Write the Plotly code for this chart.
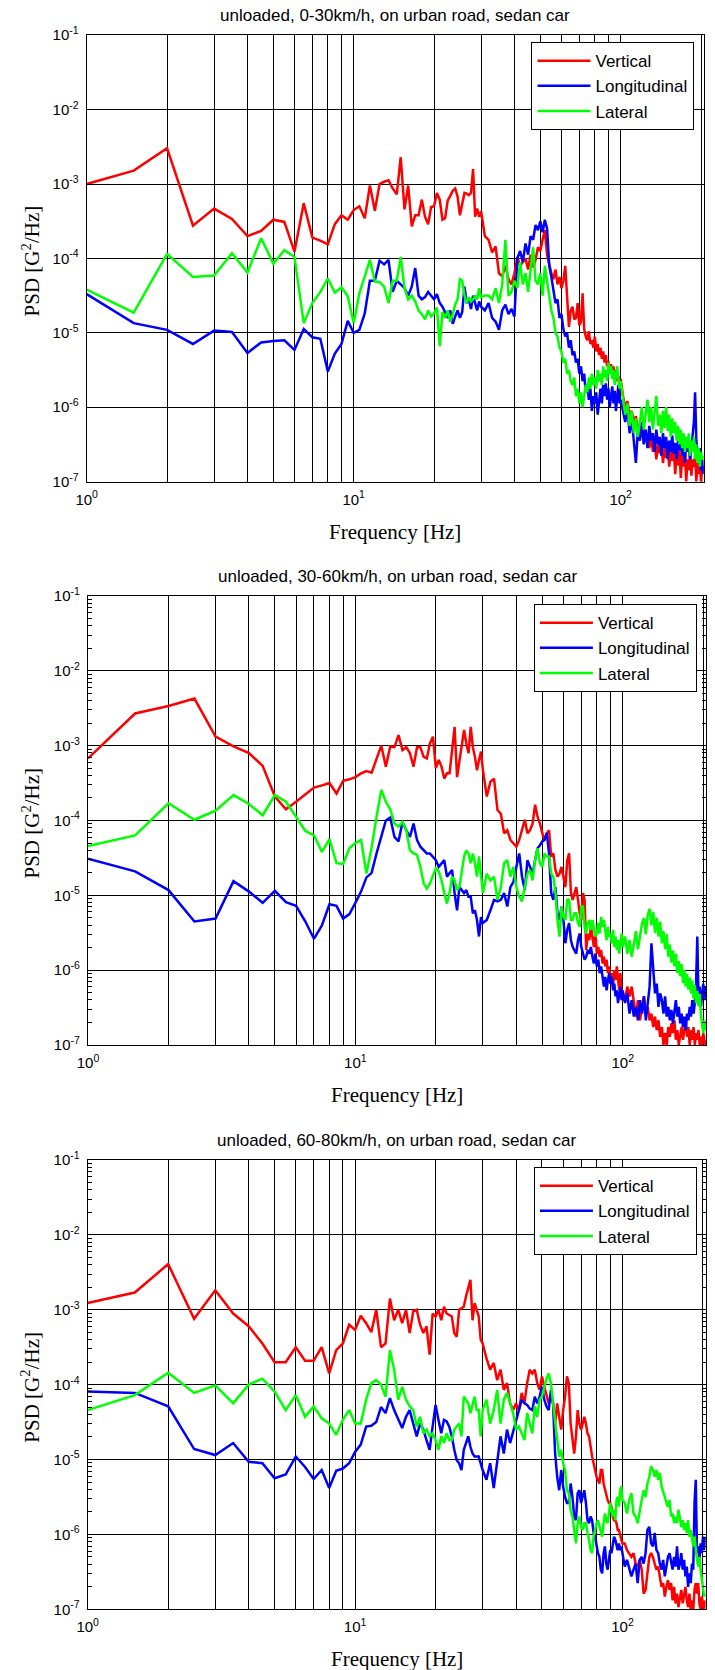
import math
import plotly.graph_objects as go

# ---------------------------------------------------------------- frequency grid (Hz)
FREQ_LOW = [1.0 + 0.5 * i for i in range(59)]     # 1.0 ... 30.0
FREQ_MID = [31.0 + i for i in range(70)]           # 31 ... 100
FREQ_HIGH = [102.0 + 2 * i for i in range(52)]     # 102 ... 204
FREQ = FREQ_LOW + FREQ_MID + FREQ_HIGH

# ---------------------------------------------------------------- PSD values, log10(G^2/Hz)
# Panel 1: 0-30 km/h
P1_VERTICAL = [
    -3.00, -2.82, -2.52, -3.56, -3.33, -3.47, -3.70, -3.63, -3.48, -3.51,
    -3.91, -3.26, -3.72, -3.76, -3.81, -3.54, -3.42, -3.48, -3.35, -3.30,
    -3.46, -3.02, -3.36, -3.00, -2.97, -2.95, -3.06, -3.14, -2.64, -3.34,
    -3.02, -3.57, -3.42, -3.42, -3.21, -3.44, -3.54, -3.31, -3.30, -3.12,
    -3.21, -3.48, -3.46, -3.22, -3.16, -3.09, -3.06, -3.17, -3.42, -3.26,
    -3.12, -3.13, -3.15, -3.12, -2.80, -3.44, -3.33, -3.44, -3.37,
    -3.70, -3.75, -3.92, -3.84, -4.20, -4.24, -4.10, -4.28, -4.35, -4.20,
    -3.98, -4.10, -4.05, -4.00, -4.15, -3.95, -4.12, -4.02, -3.85, -3.90,
    -3.75, -3.62, -3.95, -4.10, -4.20, -4.28, -4.15, -4.35, -4.25, -4.40,
    -4.30, -4.10, -4.50, -4.92, -4.70, -4.65, -4.82, -4.80, -4.60, -4.90,
    -4.85, -4.47, -4.95, -5.05, -5.10, -4.98, -5.15, -5.10, -5.20, -5.05,
    -5.25, -5.15, -5.30, -5.20, -5.35, -5.25, -5.40, -5.30, -5.45, -5.38,
    -5.50, -5.42, -5.55, -5.45, -5.60, -5.50, -5.65, -5.58, -5.70, -5.62,
    -5.85, -6.00, -5.92, -6.10, -6.05, -6.20, -6.12, -6.30, -6.22, -6.40,
    -6.28, -6.45, -6.35, -6.55, -6.40, -6.60, -6.45, -6.70, -6.50, -6.62,
    -6.48, -6.75, -6.55, -6.68, -6.52, -6.80, -6.60, -6.72, -6.55, -6.90,
    -6.62, -6.78, -6.58, -6.95, -6.65, -6.80, -6.60, -7.00, -6.70, -6.85,
    -6.62, -6.92, -6.70, -6.80, -6.65, -7.00, -6.75, -6.90, -6.72, -7.02,
    -6.80, -6.85,
]
P1_LONGITUDINAL = [
    -4.48, -4.87, -4.96, -5.15, -4.97, -4.99, -5.27, -5.13, -5.11, -5.10,
    -5.23, -4.95, -5.06, -5.08, -5.52, -5.28, -5.15, -4.84, -5.00, -4.96,
    -4.74, -4.30, -4.30, -4.03, -4.08, -4.02, -4.45, -4.30, -4.35, -4.40,
    -4.50, -4.38, -4.13, -4.50, -4.55, -4.52, -4.45, -4.50, -4.55, -4.48,
    -4.60, -4.65, -4.72, -4.80, -4.70, -4.88, -4.78, -4.70, -4.80, -4.72,
    -4.38, -4.60, -4.55, -4.68, -4.50, -4.62, -4.70, -4.58, -4.65,
    -4.70, -4.60, -4.80, -4.85, -4.96, -4.70, -4.62, -4.75, -4.68, -4.78,
    -4.00, -3.90, -4.05, -3.80, -3.95, -3.70, -3.75, -3.55, -3.62, -3.50,
    -3.65, -3.48, -3.60, -4.10, -4.25, -4.45, -4.60, -4.55, -4.80, -4.75,
    -4.95, -5.05, -5.00, -5.20, -5.10, -5.30, -5.25, -5.40, -5.35, -5.55,
    -5.45, -5.65, -5.55, -5.80, -5.70, -5.90, -5.75, -6.05, -5.85, -5.95,
    -5.80, -6.10, -5.90, -5.75, -5.95, -5.70, -5.85, -5.68, -5.90, -5.75,
    -6.00, -5.80, -5.72, -5.95, -5.78, -6.05, -5.85, -5.70, -5.95, -5.90,
    -6.05, -6.20, -6.00, -6.35, -6.15, -6.45, -6.75, -6.30, -6.45, -6.20,
    -6.50, -6.30, -6.55, -6.25, -6.45, -6.35, -6.60, -6.30, -6.50, -6.40,
    -6.65, -6.35, -6.55, -6.40, -6.70, -6.45, -6.60, -6.38, -6.62, -6.48,
    -6.70, -6.45, -6.58, -6.40, -6.65, -6.50, -6.75, -6.45, -6.60, -6.50,
    -6.70, -6.55, -6.40, -6.20, -5.80, -6.45, -6.60, -6.75, -6.55, -6.85,
    -6.70, -6.90,
]
P1_LATERAL = [
    -4.42, -4.73, -3.94, -4.25, -4.23, -3.93, -4.19, -3.73, -4.07, -3.89,
    -3.98, -4.87, -4.60, -4.45, -4.27, -4.46, -4.39, -4.51, -4.87, -4.47,
    -4.24, -4.02, -4.31, -4.32, -4.38, -4.60, -4.30, -4.30, -3.98, -4.40,
    -4.55, -4.50, -4.58, -4.70, -4.75, -4.82, -4.70, -4.78, -4.74, -4.66,
    -5.18, -4.72, -4.80, -4.70, -4.85, -4.75, -4.62, -4.55, -4.28, -4.30,
    -4.50, -4.60, -4.52, -4.58, -4.55, -4.50, -4.55, -4.40, -4.52,
    -4.50, -4.50, -4.55, -4.40, -4.60, -4.35, -3.75, -4.50, -4.45, -4.30,
    -4.40, -4.05, -4.35, -4.20, -4.45, -4.15, -3.85, -4.30, -4.35, -4.20,
    -4.50, -4.10, -4.30, -4.55, -4.70, -4.80, -5.00, -5.05, -5.20, -5.25,
    -5.40, -5.35, -5.55, -5.50, -5.65, -5.70, -5.60, -5.85, -5.75, -5.95,
    -5.80, -6.00, -5.85, -5.70, -5.80, -5.60, -5.75, -5.55, -5.70, -5.60,
    -5.75, -5.50, -5.65, -5.55, -5.70, -5.45, -5.60, -5.50, -5.65, -5.40,
    -5.55, -5.45, -5.62, -5.50, -5.70, -5.55, -5.45, -5.60, -5.75, -5.65,
    -5.90, -6.10, -5.95, -6.25, -6.05, -6.35, -6.15, -6.40, -6.20, -6.00,
    -6.30, -6.10, -5.90, -6.20, -6.00, -6.30, -6.05, -5.85, -6.25, -6.10,
    -6.35, -6.05, -6.28, -6.00, -6.32, -6.10, -6.40, -6.15, -6.35, -6.20,
    -6.45, -6.25, -6.50, -6.30, -6.55, -6.35, -6.60, -6.40, -6.55, -6.35,
    -6.65, -6.45, -6.60, -6.40, -6.70, -6.50, -6.75, -6.55, -6.80, -6.60,
    -6.70, -6.65,
]

# Panel 2: 30-60 km/h
P2_VERTICAL = [
    -3.17, -2.57, -2.47, -2.37, -2.88, -3.01, -3.10, -3.27, -3.68, -3.85,
    -3.75, -3.65, -3.56, -3.53, -3.50, -3.64, -3.47, -3.45, -3.42, -3.37,
    -3.34, -3.36, -3.19, -3.00, -3.28, -3.01, -3.02, -2.86, -3.06, -3.02,
    -3.10, -3.28, -3.02, -3.02, -3.15, -3.17, -2.97, -2.88, -3.30, -3.19,
    -3.28, -3.44, -3.37, -3.37, -3.06, -2.75, -3.42, -3.19, -3.02, -2.79,
    -2.97, -3.10, -2.75, -3.02, -3.15, -3.33, -3.19, -3.08, -3.33,
    -3.68, -3.48, -3.44, -3.86, -3.91, -4.17, -4.13, -4.26, -4.31, -4.35,
    -4.26, -4.13, -3.99, -4.17, -4.13, -4.04, -3.79, -3.95, -4.04, -4.17,
    -4.26, -4.17, -4.13, -4.48, -4.44, -4.66, -4.75, -4.71, -4.62, -4.75,
    -4.89, -4.53, -4.44, -4.97, -5.06, -4.97, -4.89, -5.06, -5.24, -5.33,
    -4.97, -5.06, -5.73, -5.51, -5.60, -5.42, -5.55, -5.69, -5.51, -5.78,
    -5.69, -5.82, -5.73, -5.91, -5.82, -5.95, -5.86, -6.04, -5.95, -6.18,
    -6.04, -6.22, -6.00, -6.13, -5.95, -6.09, -6.27, -6.04, -6.31, -6.40,
    -6.40, -6.22, -6.35, -6.22, -6.44, -6.62, -6.40, -6.67, -6.49, -6.35,
    -6.58, -6.49, -6.67, -6.58, -6.76, -6.62, -6.80, -6.67, -6.89, -6.76,
    -7.00, -6.84, -7.00, -6.76, -6.89, -6.71, -6.84, -6.67, -6.93, -6.80,
    -7.00, -6.84, -6.76, -6.93, -6.80, -6.67, -6.89, -6.76, -7.00, -6.80,
    -6.93, -6.76, -7.00, -6.84, -6.93, -6.80, -7.00, -6.89, -7.00, -6.84,
    -6.93, -7.00,
]
P2_LONGITUDINAL = [
    -4.51, -4.68, -4.93, -5.35, -5.31, -4.81, -4.95, -5.10, -4.94, -5.09,
    -5.14, -5.35, -5.58, -5.40, -5.12, -5.14, -5.31, -5.25, -5.10, -4.95,
    -4.76, -4.70, -4.44, -4.20, -4.00, -3.96, -4.22, -4.28, -4.02, -4.13,
    -4.22, -4.04, -4.26, -4.35, -4.40, -4.44, -4.44, -4.48, -4.53, -4.62,
    -4.57, -4.53, -4.75, -4.71, -4.66, -4.97, -5.20, -4.89, -4.93, -4.97,
    -4.93, -5.02, -5.02, -5.24, -5.20, -5.33, -5.55, -5.29, -5.37,
    -5.33, -5.20, -5.06, -5.08, -5.06, -4.97, -5.15, -4.89, -4.82, -4.62,
    -4.44, -4.75, -4.93, -4.53, -4.62, -4.71, -4.53, -4.37, -4.33, -4.28,
    -4.26, -4.17, -4.44, -4.97, -5.06, -4.89, -5.24, -5.33, -5.15, -5.33,
    -5.64, -5.46, -5.37, -5.60, -5.69, -5.73, -5.78, -5.60, -5.51, -5.69,
    -5.78, -5.86, -5.82, -5.73, -5.78, -5.69, -5.82, -5.91, -5.78, -5.95,
    -5.86, -6.04, -5.95, -6.13, -6.22, -6.09, -6.27, -6.13, -6.04, -6.18,
    -6.09, -6.27, -6.18, -6.35, -6.27, -6.44, -6.31, -6.22, -6.40, -6.27,
    -6.44, -6.31, -6.58, -6.40, -6.62, -6.49, -6.67, -6.40, -6.58, -6.35,
    -6.67, -6.44, -6.22, -5.64, -5.95, -6.31, -6.18, -6.49, -6.31, -6.40,
    -6.58, -6.35, -6.62, -6.49, -6.67, -6.53, -6.71, -6.58, -6.40, -6.62,
    -6.49, -6.71, -6.58, -6.76, -6.62, -6.80, -6.58, -6.67, -6.49, -6.62,
    -6.40, -6.58, -6.44, -6.18, -5.55, -6.40, -6.22, -6.49, -6.31, -6.18,
    -6.40, -6.22,
]
P2_LATERAL = [
    -4.34, -4.20, -3.77, -3.99, -3.87, -3.66, -3.78, -3.93, -3.66, -3.75,
    -3.95, -4.14, -4.20, -4.42, -4.25, -4.57, -4.58, -4.37, -4.30, -4.26,
    -4.71, -4.36, -3.95, -3.59, -3.75, -3.85, -4.04, -4.08, -4.02, -4.13,
    -4.40, -4.44, -4.46, -4.62, -4.84, -4.91, -4.84, -4.75, -4.64, -4.68,
    -4.80, -4.97, -5.11, -4.97, -4.75, -4.80, -4.93, -4.89, -4.71, -4.48,
    -4.40, -4.44, -4.57, -4.44, -4.57, -4.75, -4.48, -4.71, -4.97,
    -4.71, -4.80, -4.75, -5.06, -4.89, -4.57, -4.53, -4.75, -4.62, -4.89,
    -5.02, -5.08, -4.89, -4.71, -4.66, -4.80, -4.53, -4.37, -4.57, -4.62,
    -4.44, -4.48, -4.48, -4.71, -4.75, -4.97, -5.33, -5.55, -5.15, -5.29,
    -5.33, -5.06, -5.06, -5.33, -5.33, -5.24, -5.24, -5.37, -5.42, -5.15,
    -5.15, -5.42, -5.51, -5.37, -5.33, -5.46, -5.33, -5.42, -5.55, -5.51,
    -5.37, -5.51, -5.29, -5.42, -5.33, -5.46, -5.60, -5.42, -5.55, -5.51,
    -5.64, -5.46, -5.69, -5.55, -5.73, -5.60, -5.78, -5.64, -5.51, -5.69,
    -5.55, -5.78, -5.60, -5.82, -5.64, -5.48, -5.72, -5.52, -5.38, -5.30,
    -5.52, -5.26, -5.18, -5.40, -5.22, -5.50, -5.30, -5.55, -5.35, -5.64,
    -5.48, -5.72, -5.52, -5.82, -5.66, -5.90, -5.74, -5.95, -5.78, -6.04,
    -5.88, -6.08, -5.92, -6.17, -6.00, -6.22, -6.05, -6.26, -6.10, -6.31,
    -6.14, -6.38, -6.20, -6.44, -6.28, -6.48, -6.32, -6.60, -6.71, -6.84,
    -6.67, -6.80,
]

# Panel 3: 60-80 km/h
P3_VERTICAL = [
    -2.91, -2.77, -2.39, -3.12, -2.74, -3.05, -3.22, -3.45, -3.70, -3.70,
    -3.50, -3.68, -3.68, -3.50, -3.85, -3.54, -3.45, -3.20, -3.27, -3.08,
    -3.18, -3.30, -3.00, -3.50, -3.45, -2.85, -3.14, -3.00, -3.18, -3.00,
    -3.31, -3.02, -3.00, -3.20, -3.31, -3.22, -3.60, -3.05, -3.09, -3.00,
    -3.14, -2.96, -3.05, -3.07, -3.09, -3.31, -3.36, -3.00, -2.98, -2.96,
    -2.82, -2.69, -2.60, -3.14, -2.91, -3.00, -3.09, -3.40, -3.45,
    -3.65, -3.80, -3.71, -3.94, -3.80, -4.07, -3.98, -4.25, -4.34, -4.25,
    -4.34, -4.11, -4.25, -3.98, -3.80, -3.85, -3.80, -3.98, -4.07, -3.89,
    -4.03, -4.16, -4.25, -4.16, -4.25, -4.52, -4.25, -4.43, -4.60, -4.34,
    -4.16, -3.89, -3.98, -4.52, -4.69, -4.92, -4.69, -4.34, -4.52, -4.60,
    -4.52, -4.43, -4.52, -4.65, -4.69, -4.87, -4.96, -5.05, -5.14, -5.23,
    -5.27, -5.32, -5.14, -5.14, -5.32, -5.41, -5.50, -5.54, -5.58, -5.58,
    -5.63, -5.76, -5.81, -5.81, -5.85, -5.94, -5.94, -6.03, -6.07, -6.12,
    -6.12, -6.21, -6.25, -6.30, -6.25, -6.39, -6.43, -6.34, -6.47, -6.79,
    -6.74, -6.47, -6.30, -6.25, -6.30, -6.39, -6.47, -6.43, -6.56, -6.70,
    -6.65, -6.83, -6.70, -6.61, -6.74, -6.65, -6.88, -6.70, -6.92, -6.79,
    -6.97, -6.83, -6.74, -6.92, -6.79, -6.70, -6.88, -6.97, -6.79, -7.01,
    -6.88, -7.01, -6.74, -6.65, -6.79, -6.65, -6.92, -7.01, -6.83, -6.92,
    -7.01, -6.88,
]
P3_LONGITUDINAL = [
    -4.09, -4.11, -4.29, -4.86, -4.94, -4.78, -5.03, -5.05, -5.25, -5.20,
    -4.96, -5.10, -5.26, -5.14, -5.38, -5.15, -5.12, -5.05, -4.90, -4.80,
    -4.56, -4.55, -4.50, -4.30, -4.38, -4.18, -4.34, -4.47, -4.58, -4.43,
    -4.34, -4.52, -4.69, -4.52, -4.60, -4.74, -4.87, -4.56, -4.27, -4.47,
    -4.65, -4.47, -4.49, -4.56, -4.69, -4.87, -5.01, -5.05, -5.14, -4.87,
    -4.78, -4.69, -4.83, -4.92, -4.96, -4.96, -4.96, -5.05, -5.14,
    -5.27, -5.05, -5.38, -5.05, -4.69, -4.92, -4.60, -4.78, -4.63, -4.52,
    -4.34, -4.20, -4.25, -4.27, -4.32, -4.34, -4.16, -4.25, -4.16, -4.03,
    -4.20, -4.29, -4.34, -4.07, -4.25, -4.92, -5.23, -5.41, -5.14, -5.36,
    -5.50, -5.58, -5.58, -5.32, -5.50, -5.76, -5.81, -5.45, -5.41, -5.58,
    -5.50, -5.41, -5.58, -5.81, -5.85, -5.76, -5.81, -5.98, -6.03, -6.16,
    -6.25, -6.30, -6.47, -6.52, -6.25, -6.16, -6.39, -6.47, -6.30, -6.21,
    -6.25, -6.12, -6.03, -6.07, -6.16, -6.21, -6.12, -6.21, -6.16, -6.25,
    -6.43, -6.34, -6.47, -6.56, -6.47, -6.39, -6.65, -6.34, -6.30, -6.39,
    -6.25, -5.94, -5.90, -6.12, -6.16, -5.98, -6.21, -6.25, -6.39, -6.47,
    -6.34, -6.56, -6.43, -6.30, -6.25, -6.39, -6.47, -6.30, -6.43, -6.16,
    -6.47, -6.39, -6.25, -6.47, -6.34, -6.56, -6.43, -6.70, -6.52, -6.65,
    -6.39, -6.47, -5.58, -5.27, -6.25, -6.16, -6.34, -6.12, -6.25, -6.03,
    -6.21, -6.03,
]
P3_LATERAL = [
    -4.34, -4.14, -3.84, -4.11, -4.01, -4.25, -4.00, -3.92, -4.09, -4.34,
    -4.14, -4.43, -4.29, -4.45, -4.52, -4.67, -4.47, -4.34, -4.52, -4.52,
    -4.20, -3.98, -3.94, -4.00, -4.16, -3.54, -3.80, -4.20, -4.03, -4.20,
    -4.29, -4.34, -4.56, -4.43, -4.65, -4.60, -4.69, -4.65, -4.74, -4.87,
    -4.69, -4.78, -4.65, -4.74, -4.74, -4.60, -4.56, -4.52, -4.69, -4.16,
    -4.20, -4.25, -4.38, -4.25, -4.16, -4.34, -4.34, -4.69, -4.34,
    -4.20, -4.52, -4.34, -4.07, -4.52, -4.20, -4.11, -4.25, -4.38, -4.60,
    -4.56, -4.65, -4.74, -4.38, -4.52, -4.65, -4.29, -4.43, -4.20, -4.16,
    -4.03, -3.92, -3.85, -3.98, -4.25, -4.52, -4.78, -4.96, -4.87, -5.05,
    -5.14, -5.41, -5.45, -5.67, -5.76, -5.94, -6.12, -5.85, -5.76, -5.90,
    -5.94, -5.85, -5.85, -5.98, -6.07, -6.21, -6.25, -6.03, -5.94, -5.85,
    -5.81, -5.90, -5.98, -6.03, -5.85, -5.72, -5.81, -5.85, -5.72, -5.58,
    -5.67, -5.76, -5.67, -5.81, -5.54, -5.50, -5.63, -5.41, -5.36, -5.54,
    -5.58, -5.72, -5.54, -5.45, -5.72, -5.76, -5.85, -5.67, -5.54, -5.41,
    -5.50, -5.32, -5.23, -5.09, -5.14, -5.23, -5.14, -5.27, -5.18, -5.36,
    -5.45, -5.50, -5.58, -5.63, -5.54, -5.76, -5.72, -5.85, -5.76, -5.85,
    -5.67, -5.81, -5.90, -5.81, -5.94, -5.85, -5.98, -5.81, -6.03, -5.94,
    -6.07, -6.16, -6.03, -6.25, -6.34, -6.43, -6.30, -6.47, -6.61, -6.74,
    -6.83, -6.79,
]

SERIES_NAMES = ["Vertical", "Longitudinal", "Lateral"]
SERIES_COLORS = ["#FF0000", "#0000FF", "#00FF00"]
PANEL_TITLES = [
    "unloaded, 0-30km/h, on urban road, sedan car",
    "unloaded, 30-60km/h, on urban road, sedan car",
    "unloaded, 60-80km/h, on urban road, sedan car",
]
PANEL_DATA = [
    [P1_VERTICAL, P1_LONGITUDINAL, P1_LATERAL],
    [P2_VERTICAL, P2_LONGITUDINAL, P2_LATERAL],
    [P3_VERTICAL, P3_LONGITUDINAL, P3_LATERAL],
]

X_TICKS = [1, 10, 100]
X_TICKTEXT = ["10<sup>0</sup>", "10<sup>1</sup>", "10<sup>2</sup>"]
X_MINOR = [2, 3, 4, 5, 6, 7, 8, 9, 20, 30, 40, 50, 60, 70, 80, 90, 200]
Y_TICKS = [1e-7, 1e-6, 1e-5, 1e-4, 1e-3, 1e-2, 1e-1]
Y_TICKTEXT = ["10<sup>-7</sup>", "10<sup>-6</sup>", "10<sup>-5</sup>", "10<sup>-4</sup>",
              "10<sup>-3</sup>", "10<sup>-2</sup>", "10<sup>-1</sup>"]
Y_MINOR = [k * 10.0 ** e for e in range(-7, -1) for k in range(2, 10)]
X_MAX_HZ = 204.8

# ---------------------------------------------------------------- layout geometry (px)
W, H = 715, 1670
PANELS = [
    dict(x0=86.7, x1=703.8, y0=35.2, y1=481.6, minor=False, leg_x=694.3, leg_y=42.0),
    dict(x0=88.0, x1=706.0, y0=596.0, y1=1045.0, minor=True, leg_x=696.7, leg_y=604.0),
    dict(x0=87.7, x1=705.7, y0=1160.0, y1=1609.3, minor=True, leg_x=696.7, leg_y=1167.0),
]

SANS = "Liberation Sans"
SERIF = "Liberation Serif"

fig = go.Figure()
layout = dict(
    width=W, height=H, autosize=False,
    margin=dict(l=0, r=0, t=0, b=0),
    paper_bgcolor="white", plot_bgcolor="white",
    showlegend=True, hovermode=False,
)
annotations = []

for i, p in enumerate(PANELS, start=1):
    sfx = "" if i == 1 else str(i)
    xdom = [p["x0"] / W, p["x1"] / W]
    ydom = [1 - p["y1"] / H, 1 - p["y0"] / H]
    legend_name = "legend" + sfx

    for name, color, vals in zip(SERIES_NAMES, SERIES_COLORS, PANEL_DATA[i - 1]):
        fig.add_trace(go.Scatter(
            x=FREQ, y=[10 ** v for v in vals], mode="lines", name=name,
            line=dict(color=color, width=2.5),
            xaxis="x" + sfx, yaxis="y" + sfx, legend=legend_name,
        ))

    axis_common = dict(
        type="log", showline=True, linecolor="black", linewidth=1.2, mirror="ticks",
        showgrid=True, gridcolor="black", gridwidth=1.1, zeroline=False,
        ticks="inside", ticklen=5, tickcolor="black", tickwidth=1,
        tickfont=dict(family=SANS, size=15, color="black"),
        tickmode="array", automargin=False, fixedrange=True,
    )
    layout["xaxis" + sfx] = dict(
        axis_common, domain=xdom, anchor="y" + sfx,
        range=[0, math.log10(X_MAX_HZ)],
        tickvals=X_TICKS, ticktext=X_TICKTEXT, ticklabelstandoff=4,
        minor=dict(tickmode="array", tickvals=X_MINOR, showgrid=True,
                   gridcolor="black", gridwidth=1.1, ticks=""),
    )
    yminor = (dict(tickmode="array", tickvals=Y_MINOR, showgrid=False,
                   ticks="inside", ticklen=4, tickcolor="black", tickwidth=1)
              if p["minor"] else dict(ticks="", showgrid=False))
    layout["yaxis" + sfx] = dict(
        axis_common, domain=ydom, anchor="x" + sfx, range=[-7, -1],
        tickvals=Y_TICKS, ticktext=Y_TICKTEXT, minor=yminor, ticklabelstandoff=4,
    )
    layout[legend_name] = dict(
        x=p["leg_x"] / W, y=1 - p["leg_y"] / H, xanchor="right", yanchor="top",
        bgcolor="white", bordercolor="black", borderwidth=1.2,
        font=dict(family=SANS, size=17, color="black"),
        itemwidth=53, itemclick=False, itemdoubleclick=False,
    )

    xc = (p["x0"] + p["x1"]) / 2 / W
    annotations.append(dict(
        text=PANEL_TITLES[i - 1], xref="paper", yref="paper",
        x=xc, y=1 - (p["y0"] - 20) / H, xanchor="center", yanchor="middle",
        showarrow=False, font=dict(family=SANS, size=17, color="black"),
    ))
    annotations.append(dict(
        text="Frequency [Hz]", xref="paper", yref="paper",
        x=xc, y=1 - (p["y1"] + 50) / H, xanchor="center", yanchor="middle",
        showarrow=False, font=dict(family=SERIF, size=21, color="black"),
    ))
    annotations.append(dict(
        text="PSD [G<sup>2</sup>/Hz]", xref="paper", yref="paper",
        x=31 / W, y=1 - ((p["y0"] + p["y1"]) / 2 + 2) / H,
        xanchor="center", yanchor="middle", textangle=-90,
        showarrow=False, font=dict(family=SERIF, size=21, color="black"),
    ))

layout["annotations"] = annotations
fig.update_layout(**layout)
fig.write_html("out.html")
